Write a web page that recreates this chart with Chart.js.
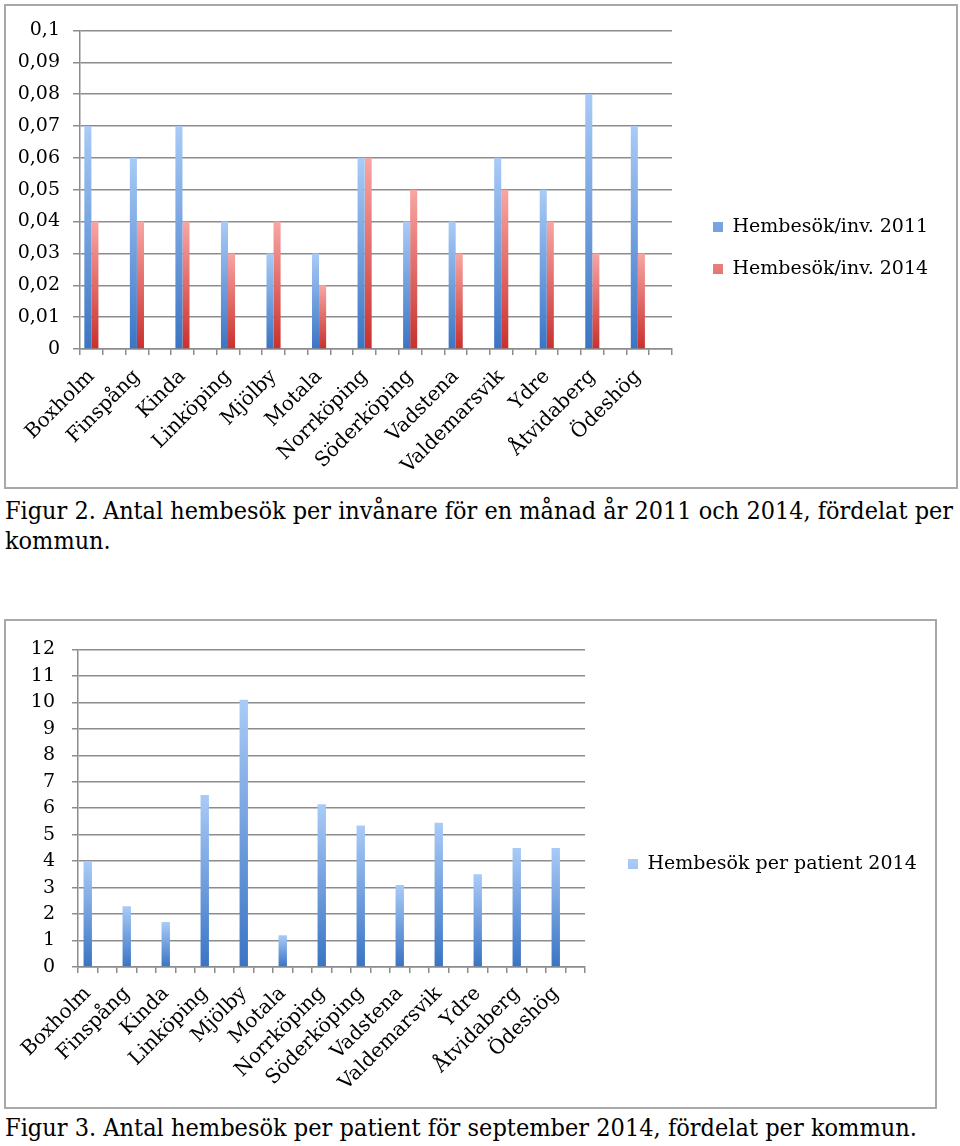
<!DOCTYPE html>
<html>
<head>
<meta charset="utf-8">
<script src="https://cdn.jsdelivr.net/npm/chart.js@4.4.1/dist/chart.umd.min.js"></script>
<style>
html,body{margin:0;padding:0;background:#fff;}
body{width:960px;height:1146px;position:relative;overflow:hidden;font-family:"DejaVu Serif",serif;}
.frame{position:absolute;border:2px solid #a8a8a8;box-sizing:border-box;background:#fff;}
#f1{left:4px;top:4px;width:954px;height:485px;}
#f2{left:4px;top:619px;width:933px;height:490px;}
.frame > div{position:relative;width:100%;height:100%;}
.cap{position:absolute;left:5px;font-size:25px;line-height:30px;color:#000;white-space:nowrap;}
.cap span{display:inline-block;transform-origin:0 0;}
</style>
</head>
<body>
<div class="frame" id="f1"><div><canvas id="chart1"></canvas></div></div>
<div class="cap" id="c1" style="top:496px"><span id="c1a">Figur 2. Antal hembesök per invånare för en månad år 2011 och 2014, fördelat per</span><br><span id="c1b">kommun.</span></div>
<div class="frame" id="f2"><div><canvas id="chart2"></canvas></div></div>
<div class="cap" id="c2" style="top:1113px"><span id="c2a">Figur 3. Antal hembesök per patient för september 2014, fördelat per kommun.</span></div>
<script>
// ---------- data ----------
const municipalities = ['Boxholm','Finspång','Kinda','Linköping','Mjölby','Motala','Norrköping','Söderköping','Vadstena','Valdemarsvik','Ydre','Åtvidaberg','Ödeshög'];
const visitsPerInhabitant2011 = [0.07,0.06,0.07,0.04,0.03,0.03,0.06,0.04,0.04,0.06,0.05,0.08,0.07];
const visitsPerInhabitant2014 = [0.04,0.04,0.04,0.03,0.04,0.02,0.06,0.05,0.03,0.05,0.04,0.03,0.03];
const visitsPerPatient2014 = [4.0,2.3,1.7,6.5,10.1,1.2,6.15,5.35,3.1,5.45,3.5,4.5,4.5];
const seriesNames1 = ['Hembesök/inv. 2011','Hembesök/inv. 2014'];
const seriesName2 = 'Hembesök per patient 2014';
const yTickLabels1 = ['0','0,01','0,02','0,03','0,04','0,05','0,06','0,07','0,08','0,09','0,1'];
const yTickLabels2 = ['0','1','2','3','4','5','6','7','8','9','10','11','12'];

// each municipality occupies a slot followed by an empty slot (as in the source chart)
function slotLabels(labels){ const out=[]; labels.forEach(l=>{out.push(l); out.push('');}); return out; }
function slotValues(values){ const out=[]; values.forEach(v=>{out.push(v); out.push(null);}); return out; }

const FONT = '"DejaVu Serif"';
const GRID = '#8c8c8c';
const BLUE = {light:'#a9cbf7', dark:'#3a74c4', solid:'#5f93dc'};
const RED  = {light:'#f8a6a4', dark:'#c9302c', solid:'#e0615e'};

Chart.defaults.font.family = FONT;
Chart.defaults.color = '#000';

function gradientFill(c){
  return (ctx) => {
    if (ctx.type !== 'data' || ctx.raw == null) return c.solid;
    const chart = ctx.chart, ys = chart.scales.y;
    if (!ys || !chart.chartArea) return c.solid;
    const top = ys.getPixelForValue(ctx.raw), base = ys.getPixelForValue(0);
    if (!isFinite(top) || !isFinite(base) || top === base) return c.solid;
    const g = chart.ctx.createLinearGradient(0, top, 0, base);
    g.addColorStop(0, c.light);
    g.addColorStop(1, c.dark);
    return g;
  };
}

function measure(text, px){
  const c = document.createElement('canvas').getContext('2d');
  c.font = px + 'px ' + FONT;
  return c.measureText(text).width;
}

// invisible spacer axis used only to reserve room in the layout
function spacer(position, size){
  const horizontal = position === 'top' || position === 'bottom';
  return {
    type: 'linear', position, axis: horizontal ? 'x' : 'y', display: true,
    grid: { display: false, drawOnChartArea: false },
    border: { display: false },
    ticks: { display: false },
    afterFit: (s) => { if (horizontal) s.height = size; else s.width = size; }
  };
}

function buildChart(canvasId, L, datasets, yLabels, yMax){
  const lf = L.legendFont;
  const textW = Math.max(...datasets.map(d => measure(d.label, lf)));
  const padRight = L.width - 10 - (L.boxX + L.boxW + lf/2 + textW);
  const gapW = L.boxX - L.legendPad - L.right;
  const padTop = Math.max(0, 2*L.legendMid - L.height);
  const topSpace = L.top - padTop;
  const xHeight = L.height - L.bottom;
  return new Chart(document.getElementById(canvasId), {
    type: 'bar',
    data: { labels: slotLabels(municipalities), datasets },
    options: {
      responsive: true,
      maintainAspectRatio: false,
      animation: false,
      events: [],
      layout: { padding: { left: 0, top: padTop, right: padRight, bottom: 0 } },
      plugins: {
        tooltip: { enabled: false },
        legend: {
          position: 'right',
          align: 'center',
          maxWidth: 400,
          labels: { boxWidth: L.boxW, boxHeight: L.boxW, padding: L.legendPad, color: '#000', font: { size: lf, family: FONT } }
        }
      },
      scales: {
        x: {
          type: 'category',
          offset: true,
          grid: { display: true, drawOnChartArea: false, drawTicks: true, tickLength: 6, color: GRID, lineWidth: 1.5, offset: true },
          border: { display: true, color: GRID, width: 1.5 },
          ticks: { autoSkip: false, minRotation: 45, maxRotation: 45, padding: L.xPad, color: '#000', font: { size: 20, family: FONT } },
          afterFit: (s) => { s.height = xHeight; }
        },
        y: {
          type: 'linear',
          position: 'left',
          min: 0,
          max: yMax,
          grid: { color: GRID, lineWidth: 1.5, drawTicks: true, tickLength: L.yTick },
          border: { display: true, color: GRID, width: 1.5 },
          ticks: { count: yLabels.length, padding: L.yPad, color: '#000', font: { size: 19, family: FONT },
                   callback: (v, i) => yLabels[i] },
          afterFit: (s) => { s.width = L.left; }
        },
        gapRight: spacer('right', gapW),
        gapTop: spacer('top', topSpace)
      }
    }
  });
}

buildChart('chart1',
  { width: 950, height: 481, left: 74, right: 666, top: 22, bottom: 343,
    boxX: 707, boxW: 10, legendFont: 19, legendPad: 23, legendMid: 242, yTick: 7, yPad: 13, xPad: 10 },
  [
    { label: seriesNames1[0], data: slotValues(visitsPerInhabitant2011), backgroundColor: gradientFill(BLUE), borderWidth: 0, categoryPercentage: 0.62, barPercentage: 1.0 },
    { label: seriesNames1[1], data: slotValues(visitsPerInhabitant2014), backgroundColor: gradientFill(RED), borderWidth: 0, categoryPercentage: 0.62, barPercentage: 1.0 }
  ],
  yTickLabels1, 0.1);

buildChart('chart2',
  { width: 929, height: 486, left: 72, right: 579, top: 26, bottom: 346,
    boxX: 622, boxW: 10, legendFont: 19, legendPad: 23, legendMid: 242.5, yTick: 6, yPad: 17, xPad: 9 },
  [
    { label: seriesName2, data: slotValues(visitsPerPatient2014), backgroundColor: gradientFill(BLUE), borderWidth: 0, categoryPercentage: 0.43, barPercentage: 1.0 }
  ],
  yTickLabels2, 12);

// fit caption lines to the widths in the source document
function fitSpan(id, target){
  const el = document.getElementById(id);
  const w = el.getBoundingClientRect().width;
  const k = target / w;
  el.style.transform = 'scaleX(' + k + ')';
  return k;
}
const k1 = fitSpan('c1a', 948);
document.getElementById('c1b').style.transform = 'scaleX(' + k1 + ')';
fitSpan('c2a', 912);
</script>
</body>
</html>
